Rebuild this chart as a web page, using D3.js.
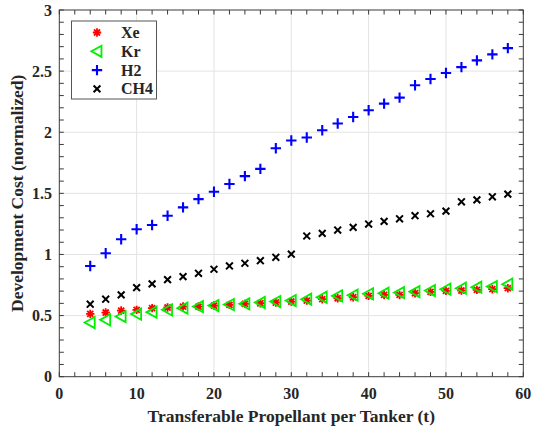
<!DOCTYPE html>
<html>
<head>
<meta charset="utf-8">
<script src="https://cdn.jsdelivr.net/npm/d3@7"></script>
<style>
  html, body { margin: 0; padding: 0; background: #fff; }
  svg { display: block; }
  text { font-family: "Liberation Serif", "Times New Roman", serif; font-weight: bold; fill: #262626; }
</style>
</head>
<body>
<svg id="chart" width="533" height="431"></svg>
<script>
// Propellant per tanker (t)
const payload = [4, 6, 8, 10, 12, 14, 16, 18, 20, 22, 24, 26, 28, 30, 32, 34, 36, 38, 40, 42, 44, 46, 48, 50, 52, 54, 56, 58];

// Normalized development cost per propellant
const xeCost = [0.514, 0.525, 0.541, 0.547, 0.561, 0.566, 0.574, 0.574, 0.582, 0.588, 0.596, 0.601, 0.607, 0.615,
                0.623, 0.634, 0.642, 0.650, 0.661, 0.669, 0.669, 0.683, 0.694, 0.702, 0.705, 0.710, 0.716, 0.724];
const krCost = [0.443, 0.465, 0.492, 0.512, 0.528, 0.547, 0.561, 0.574, 0.582, 0.590, 0.596, 0.607, 0.615, 0.623,
                0.634, 0.650, 0.661, 0.667, 0.678, 0.683, 0.688, 0.696, 0.705, 0.716, 0.724, 0.732, 0.737, 0.757];
const h2Cost = [0.906, 1.010, 1.124, 1.206, 1.241, 1.317, 1.385, 1.453, 1.513, 1.576, 1.641, 1.700, 1.869, 1.932,
                1.957, 2.016, 2.071, 2.125, 2.180, 2.234, 2.283, 2.384, 2.435, 2.484, 2.533, 2.588, 2.637, 2.688];
const ch4Cost = [0.593, 0.634, 0.669, 0.729, 0.759, 0.794, 0.819, 0.846, 0.879, 0.906, 0.928, 0.949, 0.977, 1.002,
                 1.151, 1.173, 1.200, 1.222, 1.249, 1.271, 1.292, 1.317, 1.333, 1.355, 1.431, 1.447, 1.472, 1.494];

const seriesNames = ["Xe", "Kr", "H2", "CH4"];
const xTicks = [0, 10, 20, 30, 40, 50, 60];
const yTicks = [0, 0.5, 1, 1.5, 2, 2.5, 3];
const xMinorTicks = d3.range(0, 61, 2);
const yMinorTicks = d3.range(0, 31, 1).map(d => d / 10);

const svg = d3.select("#chart");
const plotL = 59.3, plotR = 523.3, plotT = 10, plotB = 376.7;
const x = d3.scaleLinear().domain([0, 60]).range([plotL, plotR]);
const y = d3.scaleLinear().domain([0, 3]).range([plotB, plotT]);

// Grid
const grid = svg.append("g").attr("stroke", "#e3e3e3").attr("stroke-width", 1);
grid.selectAll("line.gx").data(xTicks.slice(1, -1)).join("line")
  .attr("x1", d => x(d)).attr("x2", d => x(d)).attr("y1", plotT).attr("y2", plotB);
grid.selectAll("line.gy").data(yTicks.slice(1, -1)).join("line")
  .attr("y1", d => y(d)).attr("y2", d => y(d)).attr("x1", plotL).attr("x2", plotR);

// Marker shapes
const markers = {
  Xe: r => `M${-r},0H${r}M0,${-r}V${r}M${-r*0.72},${-r*0.72}L${r*0.72},${r*0.72}M${-r*0.72},${r*0.72}L${r*0.72},${-r*0.72}`,
  Kr: r => `M${-r},0L${r*0.8},${-r}L${r*0.8},${r}Z`,
  H2: r => `M${-r},0H${r}M0,${-r}V${r}`,
  CH4: r => `M${-r},${-r}L${r},${r}M${-r},${r}L${r},${-r}`
};
const style = {
  Xe: { color: "#ff0000", r: 4.2, w: 1.8 },
  Kr: { color: "#00ee00", r: 5.6, w: 1.8 },
  H2: { color: "#0000ff", r: 5.2, w: 2.1 },
  CH4: { color: "#000000", r: 3.4, w: 2.0 }
};
const values = { Xe: xeCost, Kr: krCost, H2: h2Cost, CH4: ch4Cost };

const plot = svg.append("g");
seriesNames.forEach(name => {
  const s = style[name];
  plot.append("g").selectAll("path").data(payload.map((p, i) => [p, values[name][i]])).join("path")
    .attr("transform", d => `translate(${x(d[0])},${y(d[1])})`)
    .attr("d", markers[name](s.r))
    .attr("fill", "none").attr("stroke", s.color).attr("stroke-width", s.w)
    .attr("stroke-linejoin", "miter");
});

// Axes box with inward ticks
const axisColor = "#3a3a3a";
const ax = svg.append("g").attr("stroke", axisColor).attr("stroke-width", 1).attr("fill", "none");
ax.append("rect").attr("x", plotL).attr("y", plotT).attr("width", plotR - plotL).attr("height", plotB - plotT);
const tickLen = 4.5;
ax.selectAll("line.xt").data(xMinorTicks).join("line")
  .attr("x1", d => x(d)).attr("x2", d => x(d)).attr("y1", plotB).attr("y2", plotB - tickLen);
ax.selectAll("line.xtt").data(xMinorTicks).join("line")
  .attr("x1", d => x(d)).attr("x2", d => x(d)).attr("y1", plotT).attr("y2", plotT + tickLen);
ax.selectAll("line.yt").data(yMinorTicks).join("line")
  .attr("y1", d => y(d)).attr("y2", d => y(d)).attr("x1", plotL).attr("x2", plotL + tickLen);
ax.selectAll("line.ytr").data(yMinorTicks).join("line")
  .attr("y1", d => y(d)).attr("y2", d => y(d)).attr("x1", plotR).attr("x2", plotR - tickLen);

// Tick labels
svg.append("g").selectAll("text").data(xTicks).join("text")
  .attr("x", d => x(d)).attr("y", 399).attr("text-anchor", "middle")
  .attr("font-size", 16).text(d => d);
svg.append("g").selectAll("text").data(yTicks).join("text")
  .attr("x", 52).attr("y", d => y(d) + 5.5).attr("text-anchor", "end")
  .attr("font-size", 16).text(d => d);

// Axis titles
svg.append("text").attr("x", (plotL + plotR) / 2).attr("y", 422).attr("text-anchor", "middle")
  .attr("font-size", 17.5).text("Transferable Propellant per Tanker (t)");
svg.append("text").attr("transform", `translate(23,${(plotT + plotB) / 2}) rotate(-90)`)
  .attr("text-anchor", "middle").attr("font-size", 17.5).text("Development Cost (normalized)");

// Legend
const lg = svg.append("g");
lg.append("rect").attr("x", 71.5).attr("y", 21).attr("width", 85).attr("height", 78)
  .attr("fill", "#fff").attr("stroke", "#555").attr("stroke-width", 1);
seriesNames.forEach((name, i) => {
  const s = style[name];
  const cy = 32.5 + i * 18.8;
  lg.append("path").attr("transform", `translate(97,${cy})`).attr("d", markers[name](s.r))
    .attr("fill", "none").attr("stroke", s.color).attr("stroke-width", s.w);
  lg.append("text").attr("x", 121).attr("y", cy + 5.5).attr("font-size", 16).text(name);
});
</script>
</body>
</html>
